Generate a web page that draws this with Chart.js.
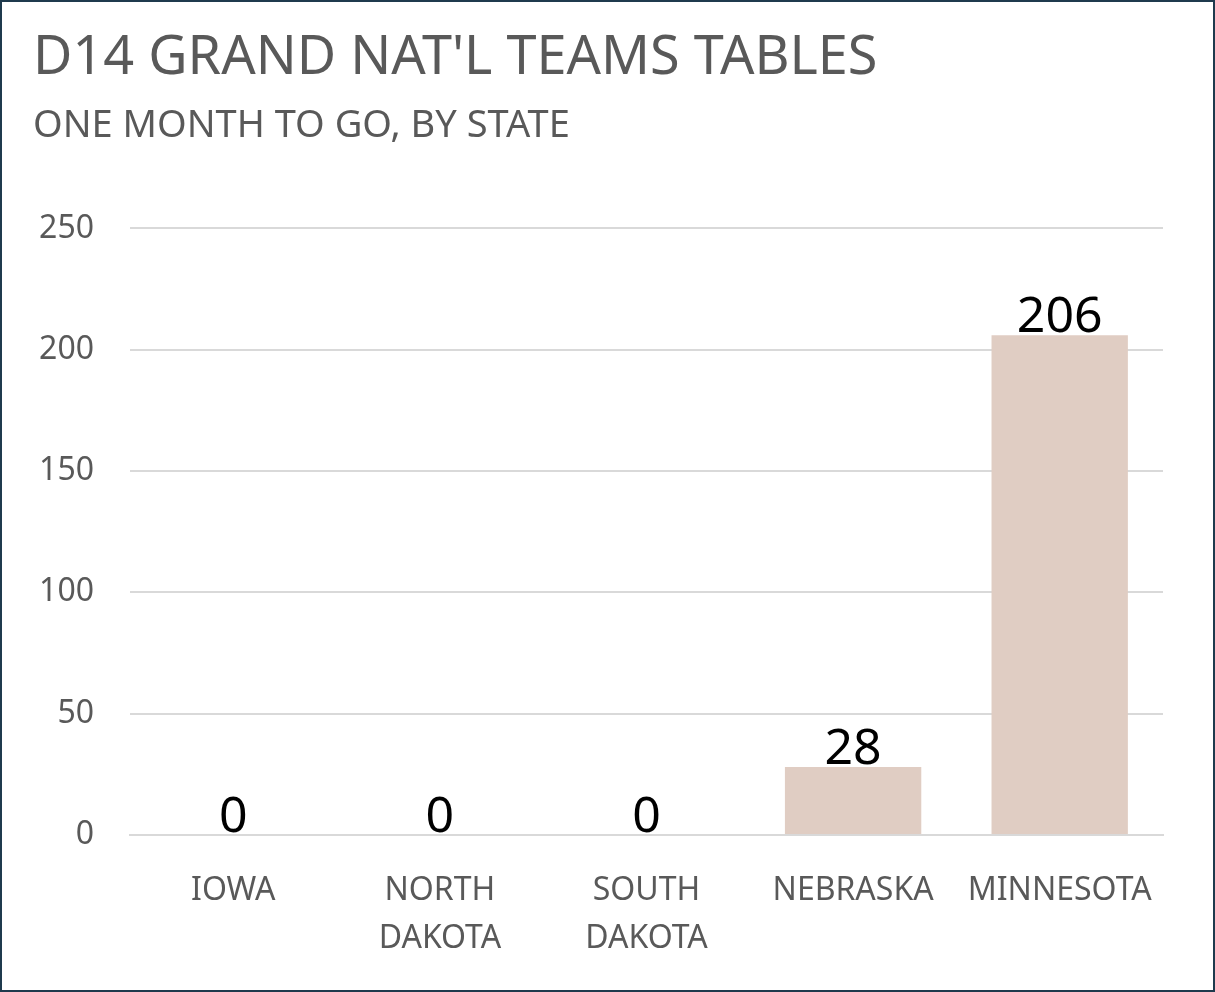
<!DOCTYPE html>
<html>
<head>
<meta charset="utf-8">
<script src="https://cdn.jsdelivr.net/npm/chart.js@4.4.0/dist/chart.umd.min.js"></script>
<style>
  html, body { margin: 0; padding: 0; background: #fff; }
  #wrap { width: 1215px; height: 992px; box-sizing: border-box; border: 2px solid #1f3a4d; }
  canvas { display: block; }
</style>
</head>
<body>
<div id="wrap"><canvas id="c" width="1211" height="988"></canvas></div>
<script>
const categories = [['IOWA'], ['NORTH', 'DAKOTA'], ['SOUTH', 'DAKOTA'], ['NEBRASKA'], ['MINNESOTA']];
const tables = [0, 0, 0, 28, 206];
const yTicks = [0, 50, 100, 150, 200, 250];

const FONT = "'Noto Sans', sans-serif";
const GREY = '#595959';

// value labels drawn above each bar
const barLabels = {
  id: 'barLabels',
  afterDatasetsDraw(chart) {
    const ctx = chart.ctx;
    const meta = chart.getDatasetMeta(0);
    ctx.save();
    ctx.font = '50px ' + FONT;
    ctx.fillStyle = '#000';
    ctx.textAlign = 'center';
    ctx.textBaseline = 'bottom';
    meta.data.forEach((bar, i) => {
      ctx.fillText(String(tables[i]), bar.x, bar.y + 8);
    });
    ctx.restore();
  }
};

new Chart(document.getElementById('c'), {
  type: 'bar',
  data: {
    labels: categories,
    datasets: [{
      data: tables,
      backgroundColor: '#e0cdc3',
      categoryPercentage: 1,
      barPercentage: 0.66
    }]
  },
  options: {
    responsive: false,
    animation: false,
    layout: { padding: { left: 31, right: 50, top: 0, bottom: 0 } },
    plugins: {
      legend: { display: false },
      tooltip: { enabled: false },
      title: {
        display: true,
        text: "D14 GRAND NAT'L TEAMS TABLES",
        align: 'start',
        color: GREY,
        font: { family: FONT, size: 54, weight: 'normal', lineHeight: 1.2 },
        padding: { top: 24, bottom: 0 }
      },
      subtitle: {
        display: true,
        text: 'ONE MONTH TO GO, BY STATE',
        align: 'start',
        color: GREY,
        font: { family: FONT, size: 38, weight: 'normal', lineHeight: 1.2 },
        padding: { top: 13, bottom: 79 }
      }
    },
    scales: {
      x: {
        grid: { display: false },
        border: { color: '#d9d9d9', width: 2 },
        ticks: {
          color: GREY, padding: 24, maxRotation: 0, autoSkip: false,
          font: { family: FONT, size: 32, lineHeight: 1.5 }
        },
        afterFit(scale) { scale.height = 155; }
      },
      y: {
        min: 0, max: 250,
        afterBuildTicks(scale) { scale.ticks = yTicks.map(v => ({ value: v })); },
        grid: { color: '#d9d9d9', lineWidth: 2, drawTicks: false },
        border: { display: false },
        ticks: {
          color: GREY, padding: 36,
          font: { family: FONT, size: 32 }
        },
        afterFit(scale) { scale.width = 97; }
      }
    }
  },
  plugins: [barLabels]
});
</script>
</body>
</html>
